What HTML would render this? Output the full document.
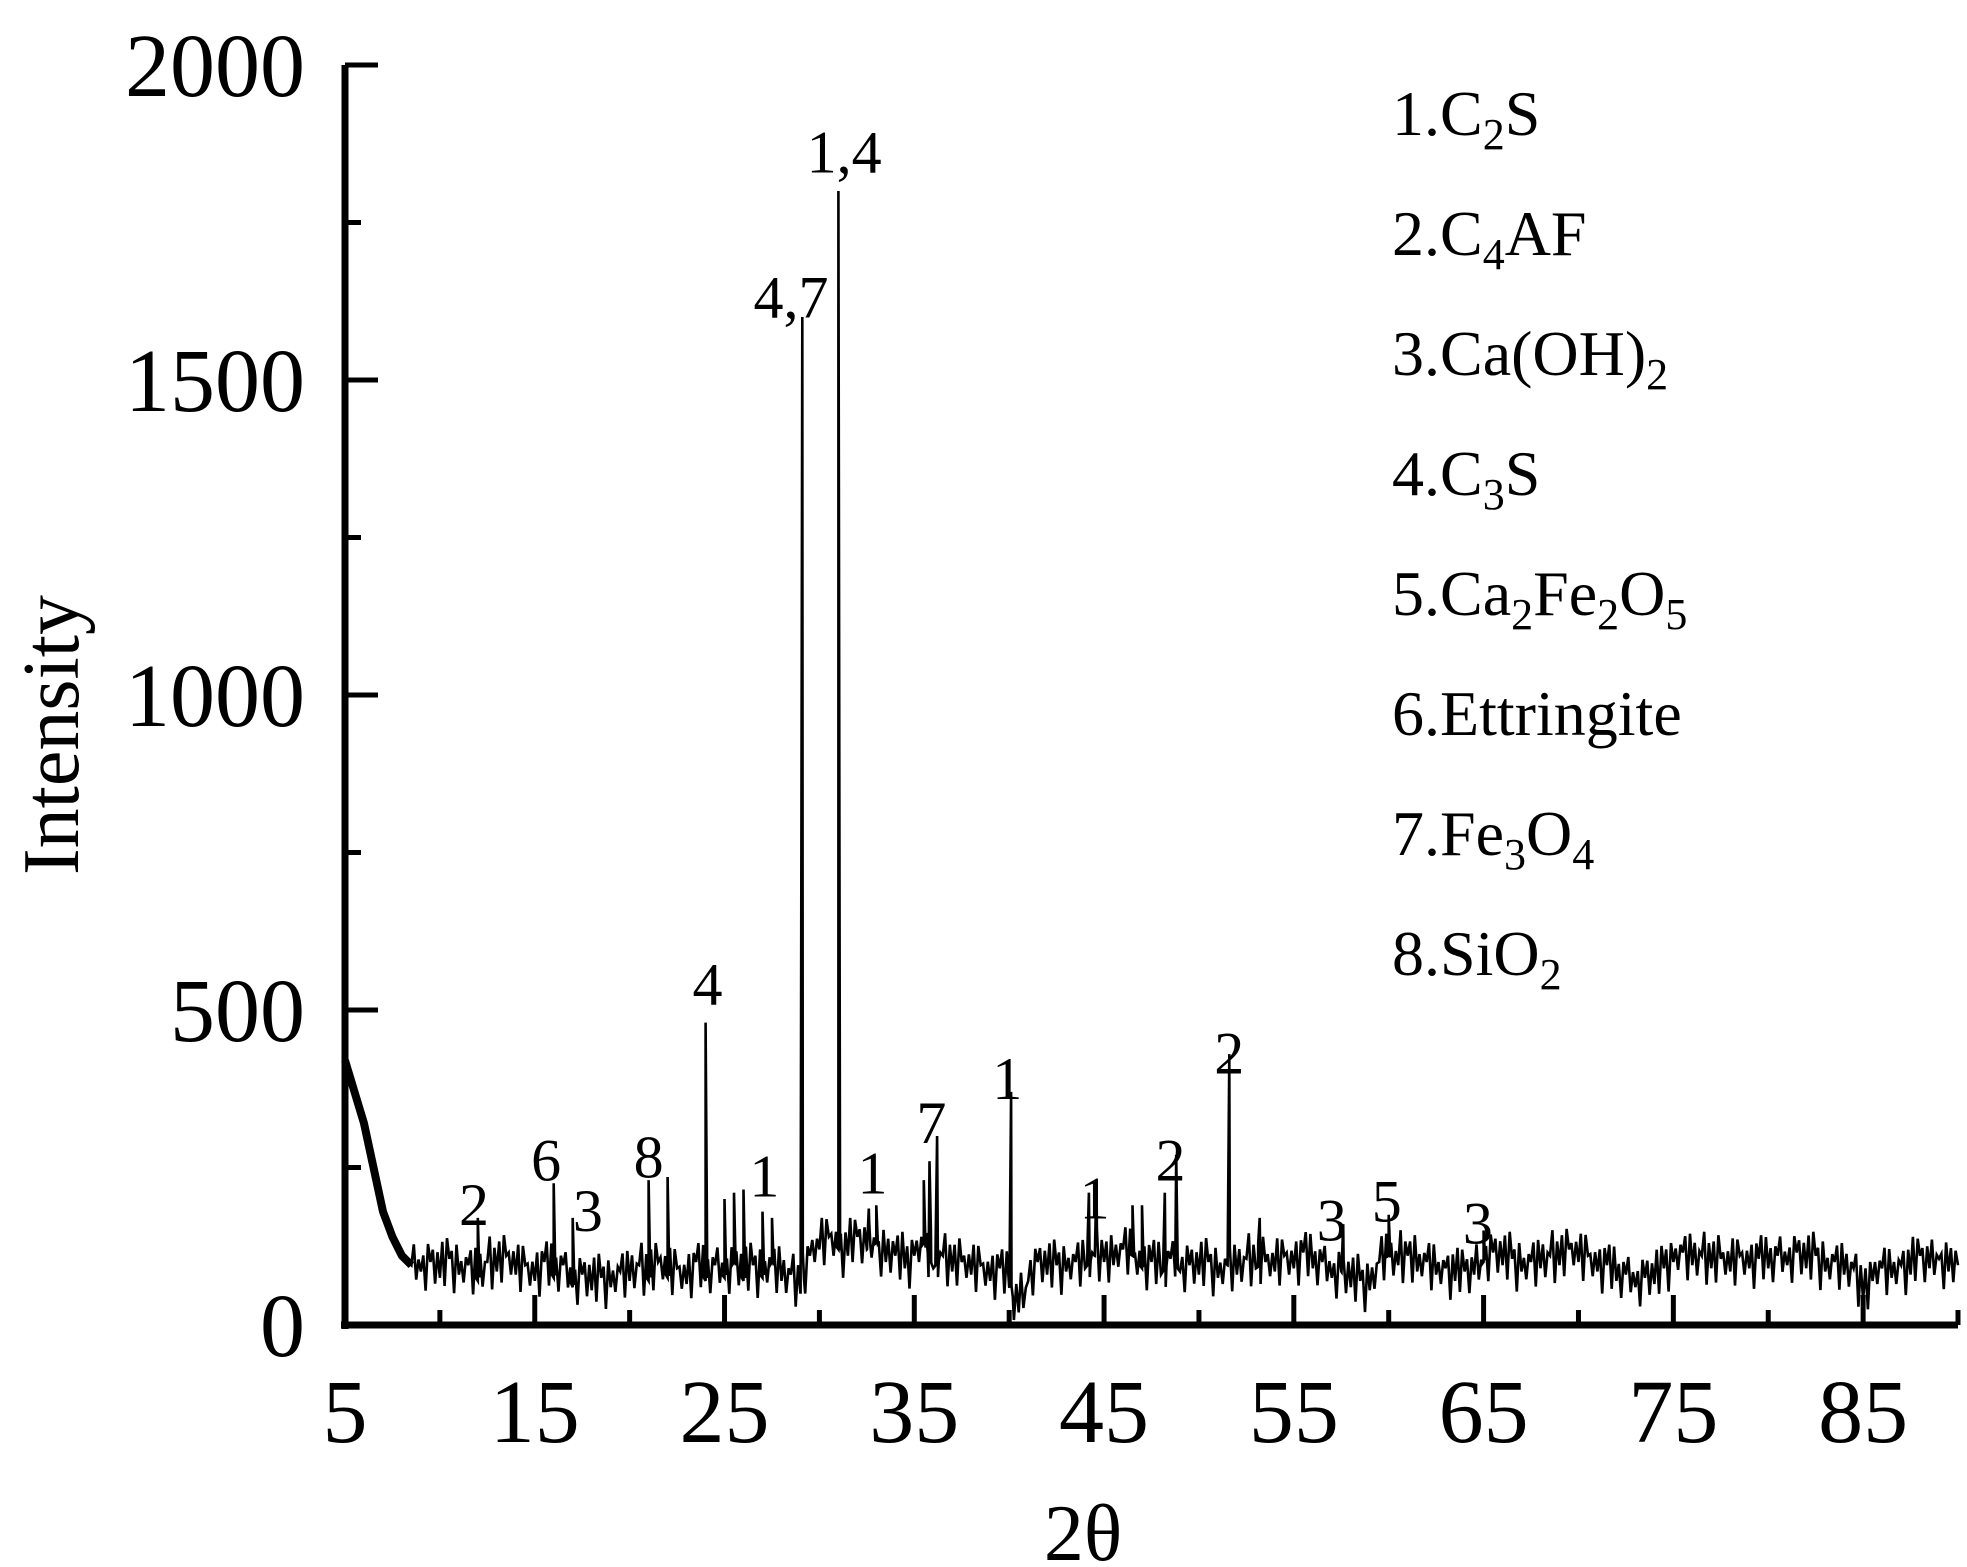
<!DOCTYPE html>
<html><head><meta charset="utf-8"><style>
html,body{margin:0;padding:0;background:#fff;}
svg{display:block;font-family:"Liberation Serif",serif;}
</style></head><body>
<svg id="chart" width="1967" height="1567" viewBox="0 0 1967 1567" xmlns="http://www.w3.org/2000/svg">
<g id="axes"></g>
<g id="plot"></g>
<g id="labels"></g>
<text x="0" y="0" transform="translate(78,735) rotate(-90)" font-size="80" text-anchor="middle">Intensity</text>
<text x="1083" y="1560" font-size="80" text-anchor="middle">2θ</text>
<g font-size="64">
<text x="1392" y="135">1.C<tspan font-size="44" dy="14">2</tspan><tspan dy="-14">S</tspan></text>
<text x="1392" y="255">2.C<tspan font-size="44" dy="14">4</tspan><tspan dy="-14">AF</tspan></text>
<text x="1392" y="375">3.Ca(OH)<tspan font-size="44" dy="14">2</tspan></text>
<text x="1392" y="495">4.C<tspan font-size="44" dy="14">3</tspan><tspan dy="-14">S</tspan></text>
<text x="1392" y="615">5.Ca<tspan font-size="44" dy="14">2</tspan><tspan dy="-14">Fe</tspan><tspan font-size="44" dy="14">2</tspan><tspan dy="-14">O</tspan><tspan font-size="44" dy="14">5</tspan></text>
<text x="1392" y="735">6.Ettringite</text>
<text x="1392" y="855">7.Fe<tspan font-size="44" dy="14">3</tspan><tspan dy="-14">O</tspan><tspan font-size="44" dy="14">4</tspan></text>
<text x="1392" y="975">8.SiO<tspan font-size="44" dy="14">2</tspan></text>
</g>
</svg>
<script>
const xStart = 5, xStep = 0.5;
const baseline = [420,370,320,250,180,140,110,95,85,
100,75,105,80,95,70,100,85,110,80,95,70,
100,75,95,60,80,55,75,60,85,70,
95,70,100,75,90,65,100,70,95,75,
100,70,95,75,100,70,80,50,110,120,
140,120,110,140,120,130,100,110,90,110,
130,90,110,85,100,80,95,70,90,60,
20,70,100,80,95,85,100,90,110,100,
95,120,110,90,100,80,105,85,95,80,
100,75,95,80,105,90,100,85,110,90,
115,90,100,75,85,60,70,55,100,110,
95,110,85,100,80,90,70,85,80,100,
115,95,105,85,100,90,110,95,120,100,
110,85,95,70,80,60,75,65,90,100,
115,95,110,90,105,85,110,90,105,90,
110,95,115,90,110,85,100,80,90,40,
70,90,75,95,80,110,90,105,85,95];
const noiseLow = [60,75,55,70,50,65,58,72,52,68,62,48,70,56,66,54];
const noiseHigh = [125,110,130,105,120,135,112,128,108,122,132,115,104,126,118,138];
const peakPos = [12,16,17,21,22,24,25,25.5,26,27,27.5,29.1,31.0,32.6,33,35.5,35.8,36.2,40.1,44.2,44.6,46.5,47,48.2,48.8,51.6,53.2,57.6,60.0,65.0];
const peakInt = [170,225,170,230,235,480,200,210,215,180,170,1600,1800,185,190,230,260,300,370,210,230,190,190,210,270,430,170,160,175,150];
const peakLabels = ["2","6","3","8","4","1","4,7","1,4","1","7","1","1","2","2","3","5","3"];
const labelX = [11.8,15.6,17.8,21.0,24.1,27.1,28.5,31.3,32.8,35.9,39.9,44.5,48.5,51.6,57.0,59.9,64.7];
const labelI = [140,210,130,215,490,185,1580,1810,190,270,340,150,210,380,115,145,110];
const xTicks = [5,15,25,35,45,55,65,75,85];
const yTicks = [0,500,1000,1500,2000];

const X0=345, X1=1958, Y0=1325, Y1=65, XMIN=5, XMAX=90, YMAX=2000;
const sx = v => X0 + (v-XMIN)/(XMAX-XMIN)*(X1-X0);
const sy = v => Y0 - v/YMAX*(Y0-Y1);
const NS="http://www.w3.org/2000/svg";
function mk(tag, attrs, parent){const e=document.createElementNS(NS,tag);for(const k in attrs)e.setAttribute(k,attrs[k]);parent.appendChild(e);return e;}
const axes=document.getElementById('axes'), plot=document.getElementById('plot'), labels=document.getElementById('labels');

const xa=mk('line',{x1:X0-4,y1:Y0,x2:X1,y2:Y0,stroke:'#000','stroke-width':7},axes);


const ya=mk('line',{x1:X0,y1:Y0+4,x2:X0,y2:Y1,stroke:'#000','stroke-width':7},axes);



for(let v=5; v<=90; v+=5){
  const major = xTicks.includes(v);
  const t=mk('line',{x1:sx(v),y1:Y0,x2:sx(v),y2:Y0-(major?30:15),stroke:'#000','stroke-width':5},axes);
  
  
}
xTicks.forEach(v=>{
  const t=mk('text',{x:sx(v),y:1442,'font-size':90,'text-anchor':'middle'},axes);
  t.textContent=v;
  
  
});
for(let v=0; v<=2000; v+=250){
  const major = yTicks.includes(v);
  const t=mk('line',{x1:X0,y1:sy(v),x2:X0+(major?33:16),y2:sy(v),stroke:'#000','stroke-width':5},axes);
  
  
}
yTicks.forEach(v=>{
  const t=mk('text',{x:305,y:sy(v)+31,'font-size':90,'text-anchor':'end'},axes);
  t.textContent=v;
  
  
});

function baseAt(x){
  const f=(x-xStart)/xStep, i=Math.floor(f), r=f-i;
  if(i>=baseline.length-1) return baseline[baseline.length-1];
  return baseline[i]*(1-r)+baseline[i+1]*r;
}
// dense noise band: extra zigzag between baseline samples (x >= 8.5)
let pts=[];
baseline.forEach((v,i)=>{
  const x=xStart+i*xStep;
  pts.push([x,v]);
  if(x>=8.5 && i<baseline.length-1){
    const b=(v+baseline[i+1])/2-90;
    pts.push([x+0.125, Math.max(5,noiseHigh[i%noiseHigh.length]+b)]);
    pts.push([x+0.25, Math.max(5,noiseLow[i%noiseLow.length]+b)]);
    pts.push([x+0.375, Math.max(5,noiseHigh[(i+5)%noiseHigh.length]+b)]);
  }
});
peakPos.forEach((p,i)=>{
  pts.push([p-0.09,baseAt(p-0.09)]);
  pts.push([p,peakInt[i]]);
  pts.push([p+0.09,baseAt(p+0.09)]);
});
pts.sort((a,b)=>a[0]-b[0]);
const d=pts.map((p,i)=>(i?'L':'M')+sx(p[0]).toFixed(1)+','+sy(p[1]).toFixed(1)).join('');
const line=mk('path',{d:d,fill:'none',stroke:'#000','stroke-width':2.6,'stroke-linejoin':'miter'},plot);


const head=baseline.slice(0,8).map((v,i)=>(i?'L':'M')+sx(xStart+i*xStep).toFixed(1)+','+sy(v).toFixed(1)).join('');
const hp=mk('path',{d:head,fill:'none',stroke:'#000','stroke-width':8},plot);



peakLabels.forEach((s,i)=>{
  const t=mk('text',{x:sx(labelX[i]),y:sy(labelI[i])-12,'font-size':60,'text-anchor':'middle'},labels);
  t.textContent=s;
  
  
});
</script>
</body></html>
